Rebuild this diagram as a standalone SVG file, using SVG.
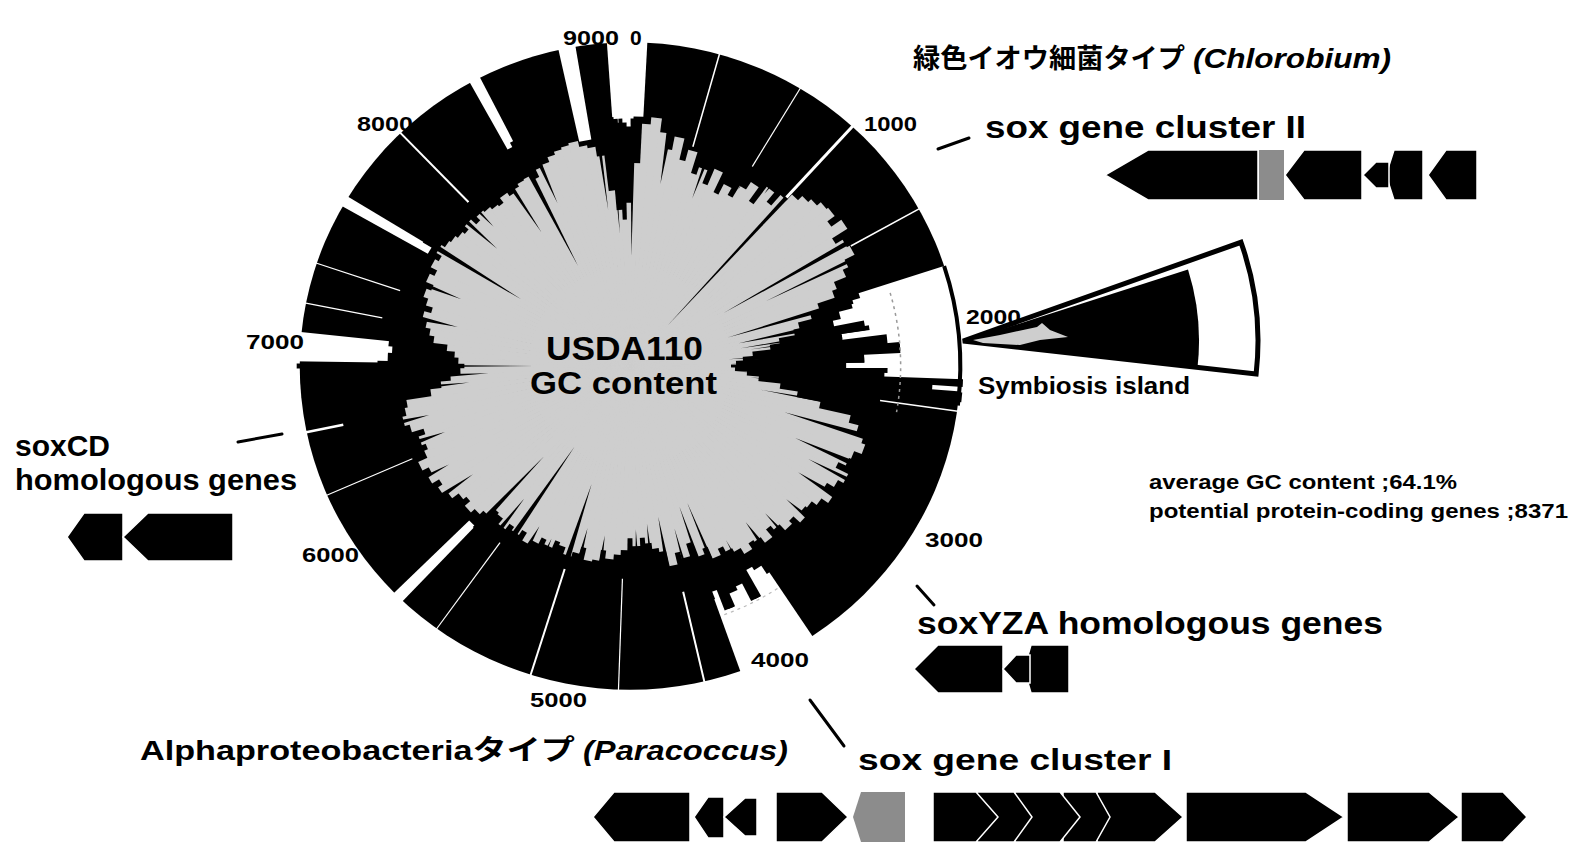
<svg xmlns="http://www.w3.org/2000/svg" xmlns:xlink="http://www.w3.org/1999/xlink" width="1572" height="843" viewBox="0 0 1572 843">
<style>
.t{font-family:"Liberation Sans",Arial,"Noto Sans CJK JP",sans-serif;font-weight:bold;fill:#000}
.num{font-size:21px}
.gene{fill:#000;stroke:#fff;stroke-width:1.5;stroke-linejoin:miter}
.wl{stroke:#fff;fill:none}
.conn line{stroke:#000;stroke-width:3;stroke-linecap:round}
</style>
<defs>
<path id="w" d="M0,0 L-0.021,-1 L0.021,-1 Z"/>
</defs>
<rect width="1572" height="843" fill="#fff"/>

<g id="gc-circle" transform="translate(630,366) scale(1.01,0.99)">
  <circle r="327" fill="#000"/>
  <!-- large white gaps -->
  <g fill="#fff">
    <path d="M0,0 L-65.4,-328.6 A335,335 0 0 1 65.4,-328.6 Z" transform="rotate(83.25)"/>
    <path d="M0,0 L-40.8,-332.5 A335,335 0 0 1 40.8,-332.5 Z" transform="rotate(153.5)"/>
    <path d="M0,0 L-15.2,-334.7 A335,335 0 0 1 15.2,-334.7 Z" transform="rotate(273.4)"/>
    <path d="M0,0 L-20.5,-334.4 A335,335 0 0 1 20.5,-334.4 Z" transform="rotate(359.5)"/>
    <path d="M-6.1,-232 L-8.8,-335 L8.8,-335 L6.1,-232 Z" transform="rotate(349)"/>
    <path d="M-4.4,-250 L-5.8,-335 L5.8,-335 L4.4,-250 Z" transform="rotate(332)"/>
    <path d="M-4,-230 L-5.8,-335 L5.8,-335 L4,-230 Z" transform="rotate(300.5)"/>
    <path d="M-4.1,-223 L-6.1,-335 L6.1,-335 L4.1,-223 Z" transform="rotate(224.5)"/>
  </g>
  <!-- black bars inside gaps -->
  <g fill="#000">
    <use href="#w" transform="rotate(356) scale(250)"/>
    <use href="#w" transform="rotate(358) scale(246)"/>
    <use href="#w" transform="rotate(0) scale(242)"/>
    <use href="#w" transform="rotate(2) scale(252)"/>
    <use href="#w" transform="rotate(72) scale(238)"/>
    <use href="#w" transform="rotate(74) scale(228)"/>
    <use href="#w" transform="rotate(76) scale(214)"/>
    <use href="#w" transform="rotate(78) scale(206)"/>
    <use href="#w" transform="rotate(80) scale(236)"/>
    <use href="#w" transform="rotate(82) scale(212)"/>
    <use href="#w" transform="rotate(84) scale(256)"/>
    <use href="#w" transform="rotate(86) scale(268)"/>
    <use href="#w" transform="rotate(88) scale(232)"/>
    <use href="#w" transform="rotate(90) scale(214)"/>
    <use href="#w" transform="rotate(92) scale(252)"/>
    <use href="#w" transform="rotate(94) scale(300)"/>
    <use href="#w" transform="rotate(146) scale(250)"/>
    <use href="#w" transform="rotate(148) scale(240)"/>
    <use href="#w" transform="rotate(150) scale(236)"/>
    <use href="#w" transform="rotate(152) scale(266)"/>
    <use href="#w" transform="rotate(154) scale(246)"/>
    <use href="#w" transform="rotate(156) scale(250)"/>
    <use href="#w" transform="rotate(158) scale(264)"/>
    <use href="#w" transform="rotate(160) scale(242)"/>
    <use href="#w" transform="rotate(270) scale(250)"/>
    <use href="#w" transform="rotate(272) scale(240)"/>
    <use href="#w" transform="rotate(274) scale(236)"/>
    <use href="#w" transform="rotate(276) scale(240)"/>
  </g>
  <!-- gray GC region -->
  <g fill="#cecece">
    <circle r="100"/>
    <use href="#w" transform="rotate(0) scale(165)"/>
    <use href="#w" transform="rotate(2) scale(205)"/>
    <use href="#w" transform="rotate(4) scale(245)"/>
    <use href="#w" transform="rotate(6) scale(252)"/>
    <use href="#w" transform="rotate(8) scale(238)"/>
    <use href="#w" transform="rotate(10) scale(222)"/>
    <use href="#w" transform="rotate(12) scale(236)"/>
    <use href="#w" transform="rotate(14) scale(214)"/>
    <use href="#w" transform="rotate(16) scale(226)"/>
    <use href="#w" transform="rotate(18) scale(204)"/>
    <use href="#w" transform="rotate(20) scale(212)"/>
    <use href="#w" transform="rotate(22) scale(198)"/>
    <use href="#w" transform="rotate(24) scale(216)"/>
    <use href="#w" transform="rotate(26) scale(194)"/>
    <use href="#w" transform="rotate(28) scale(206)"/>
    <use href="#w" transform="rotate(30) scale(198)"/>
    <use href="#w" transform="rotate(32) scale(212)"/>
    <use href="#w" transform="rotate(34) scale(221)"/>
    <use href="#w" transform="rotate(36) scale(204)"/>
    <use href="#w" transform="rotate(38) scale(226)"/>
    <use href="#w" transform="rotate(40) scale(214)"/>
    <use href="#w" transform="rotate(42) scale(228)"/>
    <use href="#w" transform="rotate(44) scale(236)"/>
    <use href="#w" transform="rotate(46) scale(242)"/>
    <use href="#w" transform="rotate(48) scale(246)"/>
    <use href="#w" transform="rotate(50) scale(251)"/>
    <use href="#w" transform="rotate(52) scale(253)"/>
    <use href="#w" transform="rotate(54) scale(244)"/>
    <use href="#w" transform="rotate(56) scale(256)"/>
    <use href="#w" transform="rotate(58) scale(238)"/>
    <use href="#w" transform="rotate(60) scale(246)"/>
    <use href="#w" transform="rotate(62) scale(249)"/>
    <use href="#w" transform="rotate(64) scale(238)"/>
    <use href="#w" transform="rotate(66) scale(232)"/>
    <use href="#w" transform="rotate(68) scale(219)"/>
    <use href="#w" transform="rotate(70) scale(214)"/>
    <use href="#w" transform="rotate(72) scale(196)"/>
    <use href="#w" transform="rotate(74) scale(186)"/>
    <use href="#w" transform="rotate(76) scale(172)"/>
    <use href="#w" transform="rotate(78) scale(166)"/>
    <use href="#w" transform="rotate(80) scale(150)"/>
    <use href="#w" transform="rotate(82) scale(140)"/>
    <use href="#w" transform="rotate(84) scale(122)"/>
    <use href="#w" transform="rotate(86) scale(112)"/>
    <use href="#w" transform="rotate(88) scale(105)"/>
    <use href="#w" transform="rotate(90) scale(100)"/>
    <use href="#w" transform="rotate(92) scale(104)"/>
    <use href="#w" transform="rotate(94) scale(116)"/>
    <use href="#w" transform="rotate(96) scale(128)"/>
    <use href="#w" transform="rotate(98) scale(150)"/>
    <use href="#w" transform="rotate(100) scale(168)"/>
    <use href="#w" transform="rotate(102) scale(192)"/>
    <use href="#w" transform="rotate(104) scale(224)"/>
    <use href="#w" transform="rotate(106) scale(234)"/>
    <use href="#w" transform="rotate(108) scale(242)"/>
    <use href="#w" transform="rotate(110) scale(246)"/>
    <use href="#w" transform="rotate(112) scale(238)"/>
    <use href="#w" transform="rotate(114) scale(236)"/>
    <use href="#w" transform="rotate(116) scale(228)"/>
    <use href="#w" transform="rotate(118) scale(242)"/>
    <use href="#w" transform="rotate(120) scale(236)"/>
    <use href="#w" transform="rotate(122) scale(228)"/>
    <use href="#w" transform="rotate(124) scale(240)"/>
    <use href="#w" transform="rotate(126) scale(232)"/>
    <use href="#w" transform="rotate(128) scale(226)"/>
    <use href="#w" transform="rotate(130) scale(224)"/>
    <use href="#w" transform="rotate(132) scale(231)"/>
    <use href="#w" transform="rotate(134) scale(222)"/>
    <use href="#w" transform="rotate(136) scale(226)"/>
    <use href="#w" transform="rotate(138) scale(218)"/>
    <use href="#w" transform="rotate(140) scale(213)"/>
    <use href="#w" transform="rotate(142) scale(223)"/>
    <use href="#w" transform="rotate(144) scale(216)"/>
    <use href="#w" transform="rotate(146) scale(214)"/>
    <use href="#w" transform="rotate(148) scale(221)"/>
    <use href="#w" transform="rotate(150) scale(214)"/>
    <use href="#w" transform="rotate(152) scale(210)"/>
    <use href="#w" transform="rotate(154) scale(204)"/>
    <use href="#w" transform="rotate(156) scale(211)"/>
    <use href="#w" transform="rotate(158) scale(198)"/>
    <use href="#w" transform="rotate(160) scale(204)"/>
    <use href="#w" transform="rotate(162) scale(188)"/>
    <use href="#w" transform="rotate(164) scale(201)"/>
    <use href="#w" transform="rotate(166) scale(194)"/>
    <use href="#w" transform="rotate(168) scale(206)"/>
    <use href="#w" transform="rotate(170) scale(190)"/>
    <use href="#w" transform="rotate(172) scale(186)"/>
    <use href="#w" transform="rotate(174) scale(180)"/>
    <use href="#w" transform="rotate(176) scale(174)"/>
    <use href="#w" transform="rotate(178) scale(182)"/>
    <use href="#w" transform="rotate(180) scale(174)"/>
    <use href="#w" transform="rotate(182) scale(186)"/>
    <use href="#w" transform="rotate(184) scale(191)"/>
    <use href="#w" transform="rotate(186) scale(196)"/>
    <use href="#w" transform="rotate(188) scale(188)"/>
    <use href="#w" transform="rotate(190) scale(199)"/>
    <use href="#w" transform="rotate(192) scale(201)"/>
    <use href="#w" transform="rotate(194) scale(189)"/>
    <use href="#w" transform="rotate(196) scale(196)"/>
    <use href="#w" transform="rotate(198) scale(201)"/>
    <use href="#w" transform="rotate(200) scale(194)"/>
    <use href="#w" transform="rotate(202) scale(191)"/>
    <use href="#w" transform="rotate(204) scale(199)"/>
    <use href="#w" transform="rotate(206) scale(194)"/>
    <use href="#w" transform="rotate(208) scale(201)"/>
    <use href="#w" transform="rotate(210) scale(206)"/>
    <use href="#w" transform="rotate(212) scale(197)"/>
    <use href="#w" transform="rotate(214) scale(203)"/>
    <use href="#w" transform="rotate(216) scale(199)"/>
    <use href="#w" transform="rotate(218) scale(206)"/>
    <use href="#w" transform="rotate(220) scale(199)"/>
    <use href="#w" transform="rotate(222) scale(197)"/>
    <use href="#w" transform="rotate(224) scale(206)"/>
    <use href="#w" transform="rotate(226) scale(211)"/>
    <use href="#w" transform="rotate(228) scale(216)"/>
    <use href="#w" transform="rotate(230) scale(209)"/>
    <use href="#w" transform="rotate(232) scale(213)"/>
    <use href="#w" transform="rotate(234) scale(221)"/>
    <use href="#w" transform="rotate(236) scale(226)"/>
    <use href="#w" transform="rotate(238) scale(221)"/>
    <use href="#w" transform="rotate(240) scale(229)"/>
    <use href="#w" transform="rotate(242) scale(224)"/>
    <use href="#w" transform="rotate(244) scale(231)"/>
    <use href="#w" transform="rotate(246) scale(221)"/>
    <use href="#w" transform="rotate(248) scale(217)"/>
    <use href="#w" transform="rotate(250) scale(221)"/>
    <use href="#w" transform="rotate(252) scale(214)"/>
    <use href="#w" transform="rotate(254) scale(226)"/>
    <use href="#w" transform="rotate(256) scale(231)"/>
    <use href="#w" transform="rotate(258) scale(227)"/>
    <use href="#w" transform="rotate(260) scale(224)"/>
    <use href="#w" transform="rotate(262) scale(199)"/>
    <use href="#w" transform="rotate(264) scale(188)"/>
    <use href="#w" transform="rotate(266) scale(178)"/>
    <use href="#w" transform="rotate(268) scale(168)"/>
    <use href="#w" transform="rotate(270) scale(164)"/>
    <use href="#w" transform="rotate(272) scale(170)"/>
    <use href="#w" transform="rotate(274) scale(174)"/>
    <use href="#w" transform="rotate(276) scale(182)"/>
    <use href="#w" transform="rotate(278) scale(196)"/>
    <use href="#w" transform="rotate(280) scale(201)"/>
    <use href="#w" transform="rotate(282) scale(206)"/>
    <use href="#w" transform="rotate(284) scale(211)"/>
    <use href="#w" transform="rotate(286) scale(204)"/>
    <use href="#w" transform="rotate(288) scale(211)"/>
    <use href="#w" transform="rotate(290) scale(216)"/>
    <use href="#w" transform="rotate(292) scale(211)"/>
    <use href="#w" transform="rotate(294) scale(219)"/>
    <use href="#w" transform="rotate(296) scale(214)"/>
    <use href="#w" transform="rotate(298) scale(221)"/>
    <use href="#w" transform="rotate(300) scale(217)"/>
    <use href="#w" transform="rotate(302) scale(223)"/>
    <use href="#w" transform="rotate(304) scale(219)"/>
    <use href="#w" transform="rotate(306) scale(217)"/>
    <use href="#w" transform="rotate(308) scale(214)"/>
    <use href="#w" transform="rotate(310) scale(211)"/>
    <use href="#w" transform="rotate(312) scale(216)"/>
    <use href="#w" transform="rotate(314) scale(209)"/>
    <use href="#w" transform="rotate(316) scale(214)"/>
    <use href="#w" transform="rotate(318) scale(212)"/>
    <use href="#w" transform="rotate(320) scale(209)"/>
    <use href="#w" transform="rotate(322) scale(207)"/>
    <use href="#w" transform="rotate(324) scale(213)"/>
    <use href="#w" transform="rotate(326) scale(209)"/>
    <use href="#w" transform="rotate(328) scale(212)"/>
    <use href="#w" transform="rotate(330) scale(215)"/>
    <use href="#w" transform="rotate(332) scale(216)"/>
    <use href="#w" transform="rotate(334) scale(211)"/>
    <use href="#w" transform="rotate(336) scale(219)"/>
    <use href="#w" transform="rotate(338) scale(221)"/>
    <use href="#w" transform="rotate(340) scale(226)"/>
    <use href="#w" transform="rotate(342) scale(229)"/>
    <use href="#w" transform="rotate(344) scale(231)"/>
    <use href="#w" transform="rotate(346) scale(233)"/>
    <use href="#w" transform="rotate(348) scale(227)"/>
    <use href="#w" transform="rotate(350) scale(224)"/>
    <use href="#w" transform="rotate(352) scale(214)"/>
    <use href="#w" transform="rotate(354) scale(178)"/>
    <use href="#w" transform="rotate(356) scale(158)"/>
    <use href="#w" transform="rotate(358) scale(148)"/>
  </g>
  <!-- thin white lines in the ring -->
  <g class="wl">
    <line x1="0" y1="-230" x2="0" y2="-335" stroke-width="2" transform="rotate(316)"/>
    <line x1="0" y1="-240" x2="0" y2="-335" stroke-width="1.2" transform="rotate(288.5)"/>
    <line x1="0" y1="-250" x2="0" y2="-335" stroke-width="1.2" transform="rotate(281.2)"/>
    <line x1="0" y1="-290" x2="0" y2="-335" stroke-width="2.5" transform="rotate(258.2)"/>
    <line x1="0" y1="-235" x2="0" y2="-335" stroke-width="1.2" transform="rotate(246.5)"/>
    <line x1="0" y1="-220" x2="0" y2="-335" stroke-width="1.2" transform="rotate(215.8)"/>
    <line x1="0" y1="-210" x2="0" y2="-335" stroke-width="2" transform="rotate(197.5)"/>
    <line x1="0" y1="-215" x2="0" y2="-335" stroke-width="1.2" transform="rotate(182)"/>
    <line x1="0" y1="-234" x2="0" y2="-335" stroke-width="2" transform="rotate(167)"/>
    <line x1="0" y1="-250" x2="0" y2="-335" stroke-width="1.5" transform="rotate(98)"/>
    <line x1="0" y1="-250" x2="0" y2="-335" stroke-width="1.5" transform="rotate(61)"/>
    <line x1="0" y1="-230" x2="0" y2="-335" stroke-width="3" transform="rotate(42.3)"/>
    <line x1="0" y1="-230" x2="0" y2="-335" stroke-width="1.2" transform="rotate(31)"/>
    <line x1="0" y1="-230" x2="0" y2="-335" stroke-width="1.5" transform="rotate(15.7)"/>
  </g>
  <!-- black spikes -->
  <g fill="#000">
    <path d="M0,-111 L-2.5,-250 L2.5,-250Z" transform="rotate(0.7)"/>
    <path d="M0,-134 L-2.5,-252 L2.5,-252Z" transform="rotate(355.7)"/>
    <path d="M0,-150 L-2,-250 L2,-250Z" transform="rotate(357.8)"/>
    <path d="M0,-159 L-2,-240 L2,-240Z" transform="rotate(352.2)"/>
    <path d="M0,-179 L-2.5,-235 L2.5,-235Z" transform="rotate(336.4)"/>
    <path d="M0,-113 L-3.5,-255 L3.5,-255Z" transform="rotate(333)"/>
    <path d="M0,-161 L-2.5,-230 L2.5,-230Z" transform="rotate(327)"/>
    <path d="M0,-195 L-2,-230 L2,-230Z" transform="rotate(316.2)"/>
    <path d="M0,-177 L-2.5,-230 L2.5,-230Z" transform="rotate(312)"/>
    <path d="M0,-127 L-3,-240 L3,-240Z" transform="rotate(302)"/>
    <path d="M0,-180 L-2.5,-230 L2.5,-230Z" transform="rotate(292)"/>
    <path d="M0,-175 L-2.5,-220 L2.5,-220Z" transform="rotate(283)"/>
    <path d="M0,-95 L-2.5,-330 L2.5,-330Z" transform="rotate(270)"/>
    <path d="M0,-140 L-3,-230 L3,-230Z" transform="rotate(267)"/>
    <path d="M0,-160 L-2.5,-230 L2.5,-230Z" transform="rotate(264)"/>
    <path d="M0,-186 L-2.5,-240 L2.5,-240Z" transform="rotate(9.3)"/>
    <path d="M0,-180 L-2,-230 L2,-230Z" transform="rotate(20)"/>
    <path d="M0,-208 L-2,-235 L2,-235Z" transform="rotate(31)"/>
    <path d="M0,-219 L-2,-245 L2,-245Z" transform="rotate(37.4)"/>
    <path d="M0,-55 L-2,-230 L2,-230Z" transform="rotate(42.3)"/>
    <path d="M0,-107 L-2.5,-255 L2.5,-255Z" transform="rotate(60)"/>
    <path d="M0,-150 L-2,-255 L2,-255Z" transform="rotate(64)"/>
    <path d="M0,-101 L-3,-230 L3,-230Z" transform="rotate(73.4)"/>
    <path d="M0,-110 L-3,-205 L3,-205Z" transform="rotate(78)"/>
    <path d="M0,-111 L-2.5,-240 L2.5,-240Z" transform="rotate(80.7)"/>
    <path d="M0,-120 L-2,-212 L2,-212Z" transform="rotate(82)"/>
    <path d="M0,-98 L-3.5,-268 L3.5,-268Z" transform="rotate(86)"/>
    <path d="M0,-100 L-2.5,-232 L2.5,-232Z" transform="rotate(88.5)"/>
    <path d="M0,-110 L-2.5,-255 L2.5,-255Z" transform="rotate(91)"/>
    <path d="M0,-103 L-4,-330 L4,-330Z" transform="rotate(93)"/>
    <path d="M0,-120 L-5,-330 L5,-330Z" transform="rotate(95.5)"/>
    <path d="M0,-132 L-2.5,-250 L2.5,-250Z" transform="rotate(100.5)"/>
    <path d="M0,-160 L-3,-245 L3,-245Z" transform="rotate(107)"/>
    <path d="M0,-179 L-3,-245 L3,-245Z" transform="rotate(114)"/>
    <path d="M0,-200 L-2,-245 L2,-245Z" transform="rotate(118)"/>
    <path d="M0,-198 L-3,-245 L3,-245Z" transform="rotate(122.8)"/>
    <path d="M0,-205 L-2.5,-240 L2.5,-240Z" transform="rotate(131)"/>
    <path d="M0,-200 L-2.5,-240 L2.5,-240Z" transform="rotate(138)"/>
    <path d="M0,-195 L-3,-235 L3,-235Z" transform="rotate(144)"/>
    <path d="M0,-200 L-3,-266 L3,-266Z" transform="rotate(151.6)"/>
    <path d="M0,-149 L-3,-264 L3,-264Z" transform="rotate(157.7)"/>
    <path d="M0,-150 L-3,-250 L3,-250Z" transform="rotate(161)"/>
    <path d="M0,-170 L-2.5,-240 L2.5,-240Z" transform="rotate(165)"/>
    <path d="M0,-155 L-2.5,-215 L2.5,-215Z" transform="rotate(169.6)"/>
    <path d="M0,-160 L-2.5,-220 L2.5,-220Z" transform="rotate(174)"/>
    <path d="M0,-165 L-2.5,-220 L2.5,-220Z" transform="rotate(178)"/>
    <path d="M0,-173 L-2.5,-215 L2.5,-215Z" transform="rotate(188.3)"/>
    <path d="M0,-169 L-2.5,-215 L2.5,-215Z" transform="rotate(194.4)"/>
    <path d="M0,-125 L-3,-215 L3,-215Z" transform="rotate(197.7)"/>
    <path d="M0,-191 L-2,-215 L2,-215Z" transform="rotate(204)"/>
    <path d="M0,-185 L-2.5,-215 L2.5,-215Z" transform="rotate(209)"/>
    <path d="M0,-98 L-3,-215 L3,-215Z" transform="rotate(214)"/>
    <path d="M0,-170 L-2.5,-215 L2.5,-215Z" transform="rotate(218)"/>
    <path d="M0,-125 L-3,-225 L3,-225Z" transform="rotate(223)"/>
    <path d="M0,-190 L-2.5,-230 L2.5,-230Z" transform="rotate(234.9)"/>
    <path d="M0,-205 L-2,-235 L2,-235Z" transform="rotate(241)"/>
    <path d="M0,-195 L-2.5,-230 L2.5,-230Z" transform="rotate(250)"/>
    <path d="M0,-205 L-2,-235 L2,-235Z" transform="rotate(256)"/>
  </g>
  <!-- dashed guide arcs and island border -->
  <path d="M257.6,-73.9 A268,268 0 0 1 263.9,46.5" fill="none" stroke="#9a9a9a" stroke-width="1.5" stroke-dasharray="3 4"/>
  <path d="M146,224.8 A268,268 0 0 1 91.7,251.8" fill="none" stroke="#bbb" stroke-width="1.2" stroke-dasharray="3 4"/>
  <path d="M311,-101 A327,327 0 0 1 324.6,39.9" fill="none" stroke="#000" stroke-width="4"/>
</g>

<g id="island-zoom">
  <path d="M963,341 L1241,242.3 A295,295 0 0 1 1256.1,374.1 Z" fill="#fff" stroke="#000" stroke-width="5" stroke-linejoin="miter"/>
  <path d="M965,341 L1188,269.6 A236,236 0 0 1 1197.5,367.5 Z" fill="#000"/>
  <polygon points="973,340 1000,335 1037,327 1042,323 1050,330 1068,337 1040,340 1020,345 983,343" fill="#cecece"/>
</g>

<g id="circle-labels" class="t num">
  <text x="563" y="45" textLength="56" lengthAdjust="spacingAndGlyphs">9000</text>
  <text x="630" y="45">0</text>
  <text x="864" y="131" textLength="53" lengthAdjust="spacingAndGlyphs">1000</text>
  <text x="966" y="324" textLength="55" lengthAdjust="spacingAndGlyphs">2000</text>
  <text x="925" y="547" textLength="58" lengthAdjust="spacingAndGlyphs">3000</text>
  <text x="751" y="667" textLength="58" lengthAdjust="spacingAndGlyphs">4000</text>
  <text x="530" y="707" textLength="57" lengthAdjust="spacingAndGlyphs">5000</text>
  <text x="302" y="562" textLength="57" lengthAdjust="spacingAndGlyphs">6000</text>
  <text x="246" y="349" textLength="58" lengthAdjust="spacingAndGlyphs">7000</text>
  <text x="357" y="131" textLength="56" lengthAdjust="spacingAndGlyphs">8000</text>
</g>

<g id="center-title" class="t">
  <text x="546" y="360" font-size="33" textLength="157" lengthAdjust="spacingAndGlyphs">USDA110</text>
  <text x="530" y="394" font-size="32" textLength="187" lengthAdjust="spacingAndGlyphs">GC content</text>
</g>

<g id="chlorobium-title" class="t">
  <text x="913" y="68" font-size="27" textLength="272" lengthAdjust="spacingAndGlyphs">緑色イオウ細菌タイプ</text>
  <text x="1193" y="68" font-size="28" font-style="italic" textLength="198" lengthAdjust="spacingAndGlyphs">(Chlorobium)</text>
</g>

<g id="sox-cluster-II">
  <text class="t" x="985" y="138" font-size="31" textLength="321" lengthAdjust="spacingAndGlyphs">sox gene cluster II</text>
  <polygon class="gene" points="1105,175 1148,150 1258,150 1258,200 1148,200"/>
  <rect x="1259" y="150" width="25" height="50" fill="#8c8c8c"/>
  <polygon class="gene" points="1285,175 1304,150 1362,150 1362,200 1304,200"/>
  <polygon class="gene" points="1386,175 1394,150 1423,150 1423,200 1394,200"/>
  <polygon class="gene" points="1363,175 1376,162 1389,162 1389,188 1376,188"/>
  <polygon class="gene" points="1428,175 1446,150 1477,150 1477,200 1446,200"/>
</g>

<g id="symbiosis-label">
  <text class="t" x="978" y="394" font-size="24" textLength="212" lengthAdjust="spacingAndGlyphs">Symbiosis island</text>
</g>

<g id="stats" class="t">
  <text x="1149" y="489" font-size="20" textLength="308" lengthAdjust="spacingAndGlyphs">average GC content ;64.1%</text>
  <text x="1149" y="518" font-size="20" textLength="419" lengthAdjust="spacingAndGlyphs">potential protein-coding genes ;8371</text>
</g>

<g id="soxCD">
  <text class="t" x="15" y="456" font-size="30" textLength="95" lengthAdjust="spacingAndGlyphs">soxCD</text>
  <text class="t" x="15" y="490" font-size="30" textLength="282" lengthAdjust="spacingAndGlyphs">homologous genes</text>
  <polygon class="gene" points="67,537 84,513 123,513 123,561 84,561"/>
  <polygon class="gene" points="123,537 148,513 233,513 233,561 148,561"/>
</g>

<g id="soxYZA">
  <text class="t" x="917" y="634" font-size="32" textLength="466" lengthAdjust="spacingAndGlyphs">soxYZA homologous genes</text>
  <polygon class="gene" points="1024,669 1031,645 1069,645 1069,693 1031,693"/>
  <polygon class="gene" points="914,669 938,645 1003,645 1003,693 938,693"/>
  <polygon class="gene" points="1003,669 1016,655 1030,655 1030,683 1016,683"/>
</g>

<g id="paracoccus-title" class="t">
  <text x="140" y="760" font-size="28" textLength="435" lengthAdjust="spacingAndGlyphs">Alphaproteobacteriaタイプ</text>
  <text x="583" y="760" font-size="28" font-style="italic" textLength="205" lengthAdjust="spacingAndGlyphs">(Paracoccus)</text>
</g>

<g id="sox-cluster-I">
  <text class="t" x="858" y="770" font-size="30" textLength="314" lengthAdjust="spacingAndGlyphs">sox gene cluster I</text>
  <polygon class="gene" points="593,817 614,792 690,792 690,842 614,842"/>
  <polygon class="gene" points="694,817 708,797 724,797 724,838 708,838"/>
  <polygon class="gene" points="724,817 745,798 757,798 757,836 745,836"/>
  <polygon class="gene" points="776,792 822,792 848,817 822,842 776,842"/>
  <polygon points="853,817 861,792 905,792 905,842 861,842" fill="#8c8c8c"/>
  <polygon class="gene" points="1097,792 1155,792 1183,817 1155,842 1097,842"/>
  <polygon class="gene" points="1063,792 1096,792 1110,817 1096,842 1063,842"/>
  <polygon class="gene" points="1015,792 1060,792 1080,817 1060,842 1015,842"/>
  <polygon class="gene" points="977,792 1014,792 1032,817 1014,842 977,842"/>
  <polygon class="gene" points="933,792 976,792 998,817 976,842 933,842"/>
  <polygon class="gene" points="1186,792 1306,792 1344,817 1306,842 1186,842"/>
  <polygon class="gene" points="1347,792 1429,792 1459,817 1429,842 1347,842"/>
  <polygon class="gene" points="1461,792 1503,792 1527,817 1503,842 1461,842"/>
</g>

<g id="connectors" class="conn">
  <line x1="938" y1="149" x2="969" y2="138"/>
  <line x1="238" y1="442" x2="282" y2="434"/>
  <line x1="917" y1="586" x2="934" y2="605"/>
  <line x1="810" y1="700" x2="844" y2="746"/>
</g>
</svg>
